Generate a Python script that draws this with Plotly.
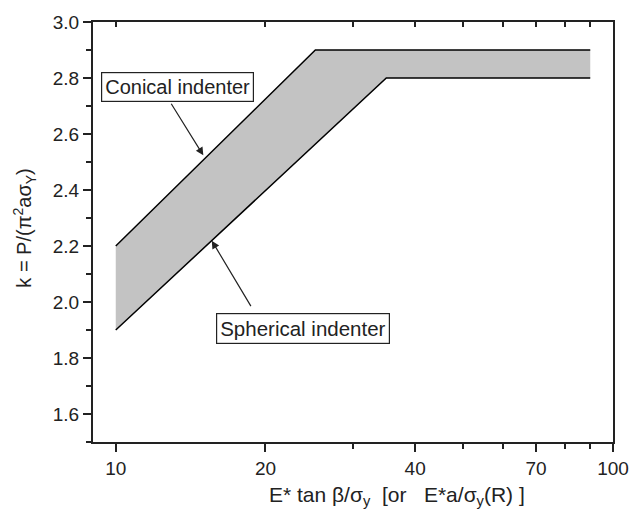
import plotly.graph_objects as go
import math

# Data
conical_x = [10, 25.2, 90]
conical_y = [2.2, 2.9, 2.9]
spherical_x = [10, 35, 90]
spherical_y = [1.9, 2.8, 2.8]

x_major = [10, 20, 40, 70, 100]
x_minor = [30, 50, 60, 80, 90]
x_top_ticks = [10, 20, 30, 40, 50, 60, 70, 80, 90]
y_major = [1.6, 1.8, 2.0, 2.2, 2.4, 2.6, 2.8, 3.0]

FONT = "Liberation Sans, Arial, sans-serif"

fig = go.Figure()
fig.add_trace(go.Scatter(x=conical_x, y=conical_y, mode="lines",
                         line=dict(color="black", width=1.5), showlegend=False))
fig.add_trace(go.Scatter(x=spherical_x, y=spherical_y, mode="lines",
                         line=dict(color="black", width=1.5), fill="tonexty",
                         fillcolor="#c3c3c3", showlegend=False))
# invisible trace for top axis
fig.add_trace(go.Scatter(x=[10], y=[2], xaxis="x2", mode="markers",
                         marker=dict(opacity=0), showlegend=False, hoverinfo="skip"))

xr = [math.log10(9.0), 2.0]
fig.update_layout(
    width=641, height=515,
    margin=dict(l=93, r=21, t=17, b=73),
    paper_bgcolor="white", plot_bgcolor="white",
    font=dict(family=FONT, size=19, color="#222"),
    xaxis=dict(type="log", range=xr, tickmode="array", tickvals=x_major,
               ticktext=[str(v) for v in x_major],
               ticks="outside", ticklen=8, tickwidth=1.5, tickcolor="#222",
               showline=True, linecolor="#222", linewidth=2, mirror=True,
               showgrid=False, zeroline=False,
               minor=dict(tickmode="array", tickvals=x_minor, ticks="outside",
                          ticklen=5, tickwidth=1.5, tickcolor="#222", showgrid=False)),
    xaxis2=dict(type="log", range=xr, overlaying="x", side="top",
                tickmode="array", tickvals=x_top_ticks, ticks="inside",
                ticklen=5, tickwidth=1.5, tickcolor="#222",
                showticklabels=False, showline=False, showgrid=False, zeroline=False),
    yaxis=dict(range=[1.5, 3.0], tickmode="array", tickvals=y_major,
               ticktext=[f"{v:.1f}" for v in y_major],
               ticks="outside", ticklen=8, tickwidth=1.5, tickcolor="#222",
               showline=True, linecolor="#222", linewidth=2, mirror=True,
               showgrid=False, zeroline=False,
               minor=dict(dtick=0.1, ticks="outside", ticklen=5, tickwidth=1.5,
                          tickcolor="#222", showgrid=False)),
)

ann_font = dict(family=FONT, size=20, color="#222")
fig.add_annotation(x=math.log10(13.28), y=2.767, xref="x", yref="y",
                   text="Conical indenter", showarrow=False, font=ann_font,
                   bgcolor="white", bordercolor="#222", borderwidth=1.2, borderpad=3)
fig.add_annotation(x=math.log10(23.8), y=1.9065, xref="x", yref="y",
                   text="Spherical indenter", showarrow=False,
                   font=dict(family=FONT, size=20.5, color="#222"),
                   bgcolor="white", bordercolor="#222", borderwidth=1.2, borderpad=3)
fig.add_annotation(x=math.log10(15.0), y=2.524, xref="x", yref="y", text="",
                   showarrow=True, ax=-33, ay=-53, arrowhead=2, arrowsize=1.3,
                   arrowwidth=1.2, arrowcolor="#222")
fig.add_annotation(x=math.log10(15.6), y=2.219, xref="x", yref="y", text="",
                   showarrow=True, ax=40, ay=67, arrowhead=2, arrowsize=1.3,
                   arrowwidth=1.2, arrowcolor="#222")

# axis titles
fig.add_annotation(x=0.584, y=-0.129, xref="paper", yref="paper",
                   xanchor="center", yanchor="middle", showarrow=False,
                   text="E* tan β/σ<sub>y</sub>\u00a0\u00a0[or\u00a0\u00a0\u00a0E*a/σ<sub>y</sub>(R) ]",
                   font=dict(family=FONT, size=21, color="#222"))
fig.add_annotation(x=-0.131, y=0.51, xref="paper", yref="paper",
                   xanchor="center", yanchor="middle", showarrow=False, textangle=-90,
                   text="k = P/(π<sup>2</sup>aσ<sub>Y</sub>)",
                   font=dict(family=FONT, size=20, color="#222"))

fig.write_html("out.html")
